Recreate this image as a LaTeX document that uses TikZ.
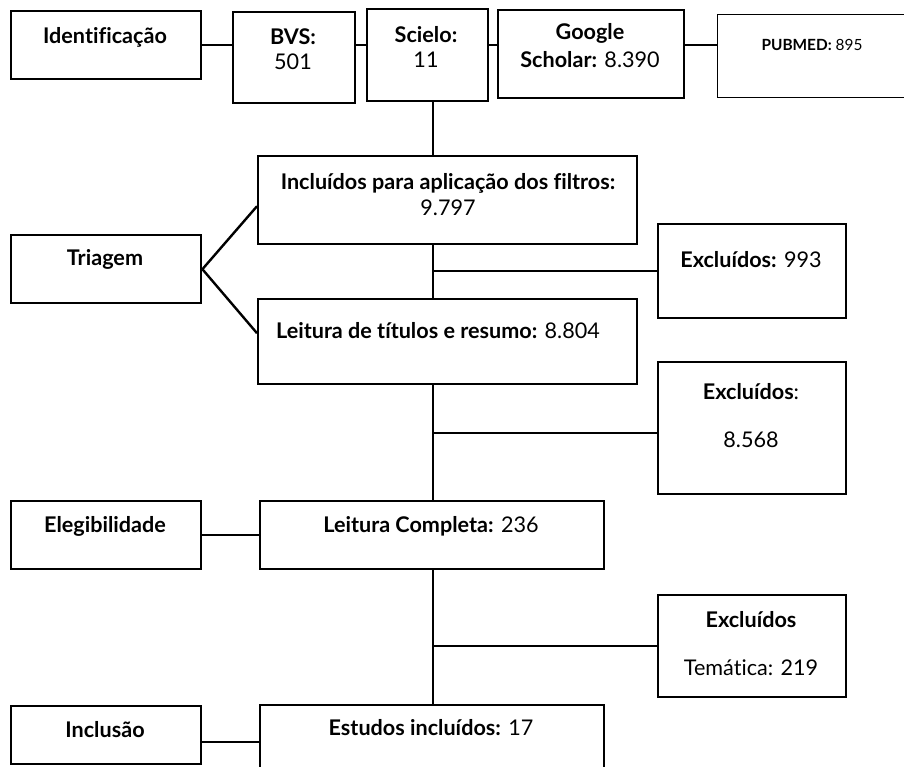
\documentclass[tikz,border=0pt]{standalone}
\usepackage{fontspec}
\setmainfont{Lato}[Ligatures=NoCommon]
\begin{document}
\begin{tikzpicture}[x=1pt,y=-1pt,
  box/.style={draw, line width=2.4pt, inner sep=0pt, anchor=north west},
  thinbox/.style={draw, line width=1.1pt, inner sep=0pt, anchor=north west},
  txt/.style={anchor=base, align=center, inner sep=0pt, font=\fontsize{21.6}{25}\selectfont},
  conn/.style={line width=2.4pt}]
\useasboundingbox (0,0) rectangle (904,766);
\fill[white] (0,0) rectangle (904,766);
% boxes
\node[box, minimum width=190pt, minimum height=68pt] (id) at (10,10) {};
\node[box, minimum width=122pt, minimum height=91pt] (bvs) at (232,11) {};
\node[box, minimum width=121pt, minimum height=92pt] (sci) at (366,8) {};
\node[box, minimum width=186pt, minimum height=88pt] (goo) at (497,9) {};
\node[thinbox, minimum width=193pt, minimum height=83pt] (pub) at (717,14) {};
\node[box, minimum width=379pt, minimum height=88pt] (inc) at (257,155) {};
\node[box, minimum width=190pt, minimum height=68pt] (tri) at (10,234) {};
\node[box, minimum width=379pt, minimum height=85pt] (lei) at (257,298) {};
\node[box, minimum width=188pt, minimum height=94pt] (ex1) at (657,223) {};
\node[box, minimum width=188pt, minimum height=132pt] (ex2) at (657,361) {};
\node[box, minimum width=190pt, minimum height=68pt] (eleg) at (10,500) {};
\node[box, minimum width=344pt, minimum height=68pt] (lc) at (259,500) {};
\node[box, minimum width=188pt, minimum height=102pt] (ex3) at (657,594) {};
\node[box, minimum width=190pt, minimum height=58pt] (incl) at (10,705) {};
\node[box, minimum width=344pt, minimum height=90pt] (est) at (259,704) {};
% connectors
\coordinate (sp) at (433,0);
\coordinate (j2) at (433,433);
\draw[conn] (id.east) -- (bvs.west |- id.east);
\draw[conn] (bvs.east |- id.east) -- (sci.west |- id.east);
\draw[conn] (sci.east |- id.east) -- (goo.west |- id.east);
\draw[conn] (goo.east |- id.east) -- (pub.west |- id.east);
\draw[conn] (sci.south -| sp) -- (inc.north -| sp);
\draw[conn] (tri.east) -- ([yshift=-6pt]inc.west);
\draw[conn] (tri.east) -- ([yshift=8.5pt]lei.west);
\draw[conn] (inc.south -| sp) -- (lei.north -| sp);
\draw[conn] (sp |- ex1.west) -- (ex1.west);
\draw[conn] (lei.south -| sp) -- (lc.north -| sp);
\draw[conn] (j2) -- (j2 -| ex2.west);
\draw[conn] (eleg.east) -- (lc.west);
\draw[conn] (lc.south -| sp) -- (est.north -| sp);
\draw[conn] (sp |- ex3.west) -- (ex3.west);
\draw[conn] ([yshift=-7pt]incl.east) -- ([yshift=-7pt]incl.east -| est.west);
% texts
\node[txt] (t-id) at (105,43) {\textbf{Identificação}};
\node[txt] (t-bvs) at (293,69) {\textbf{BVS:}\\501};
\node[txt] (t-sci) at (426,67) {\textbf{Scielo:}\\11};
\node[txt] (t-goo) at (590,67) {\textbf{Google}\\[3pt]\textbf{Scholar:} 8.390};
\node[txt, font=\fontsize{15.4}{18}\selectfont] (t-pub) at (812,50) {\textbf{PUBMED:} 895};
\node[txt] (t-inc) at (448,215) {\textbf{Incluídos para aplicação dos filtros:}\\[1pt]9.797};
\node[txt] (t-tri) at (105,265) {\textbf{Triagem}};
\node[txt] (t-ex1) at (751,267) {\textbf{Excluídos:} 993};
\node[txt] (t-lei) at (438,338) {\textbf{Leitura de títulos e resumo:} 8.804};
\node[txt] (t-ex2a) at (751,399) {\textbf{Excluídos}:};
\node[txt] (t-ex2b) at (751,447) {8.568};
\node[txt] (t-eleg) at (105,532) {\textbf{Elegibilidade}};
\node[txt] (t-lc) at (431,532) {\textbf{Leitura Completa:} 236};
\node[txt] (t-ex3a) at (751,627) {\textbf{Excluídos}};
\node[txt] (t-ex3b) at (751,675) {Temática: 219};
\node[txt] (t-incl) at (105,737) {\textbf{Inclusão}};
\node[txt] (t-est) at (431,735) {\textbf{Estudos incluídos:} 17};
\end{tikzpicture}
\end{document}
